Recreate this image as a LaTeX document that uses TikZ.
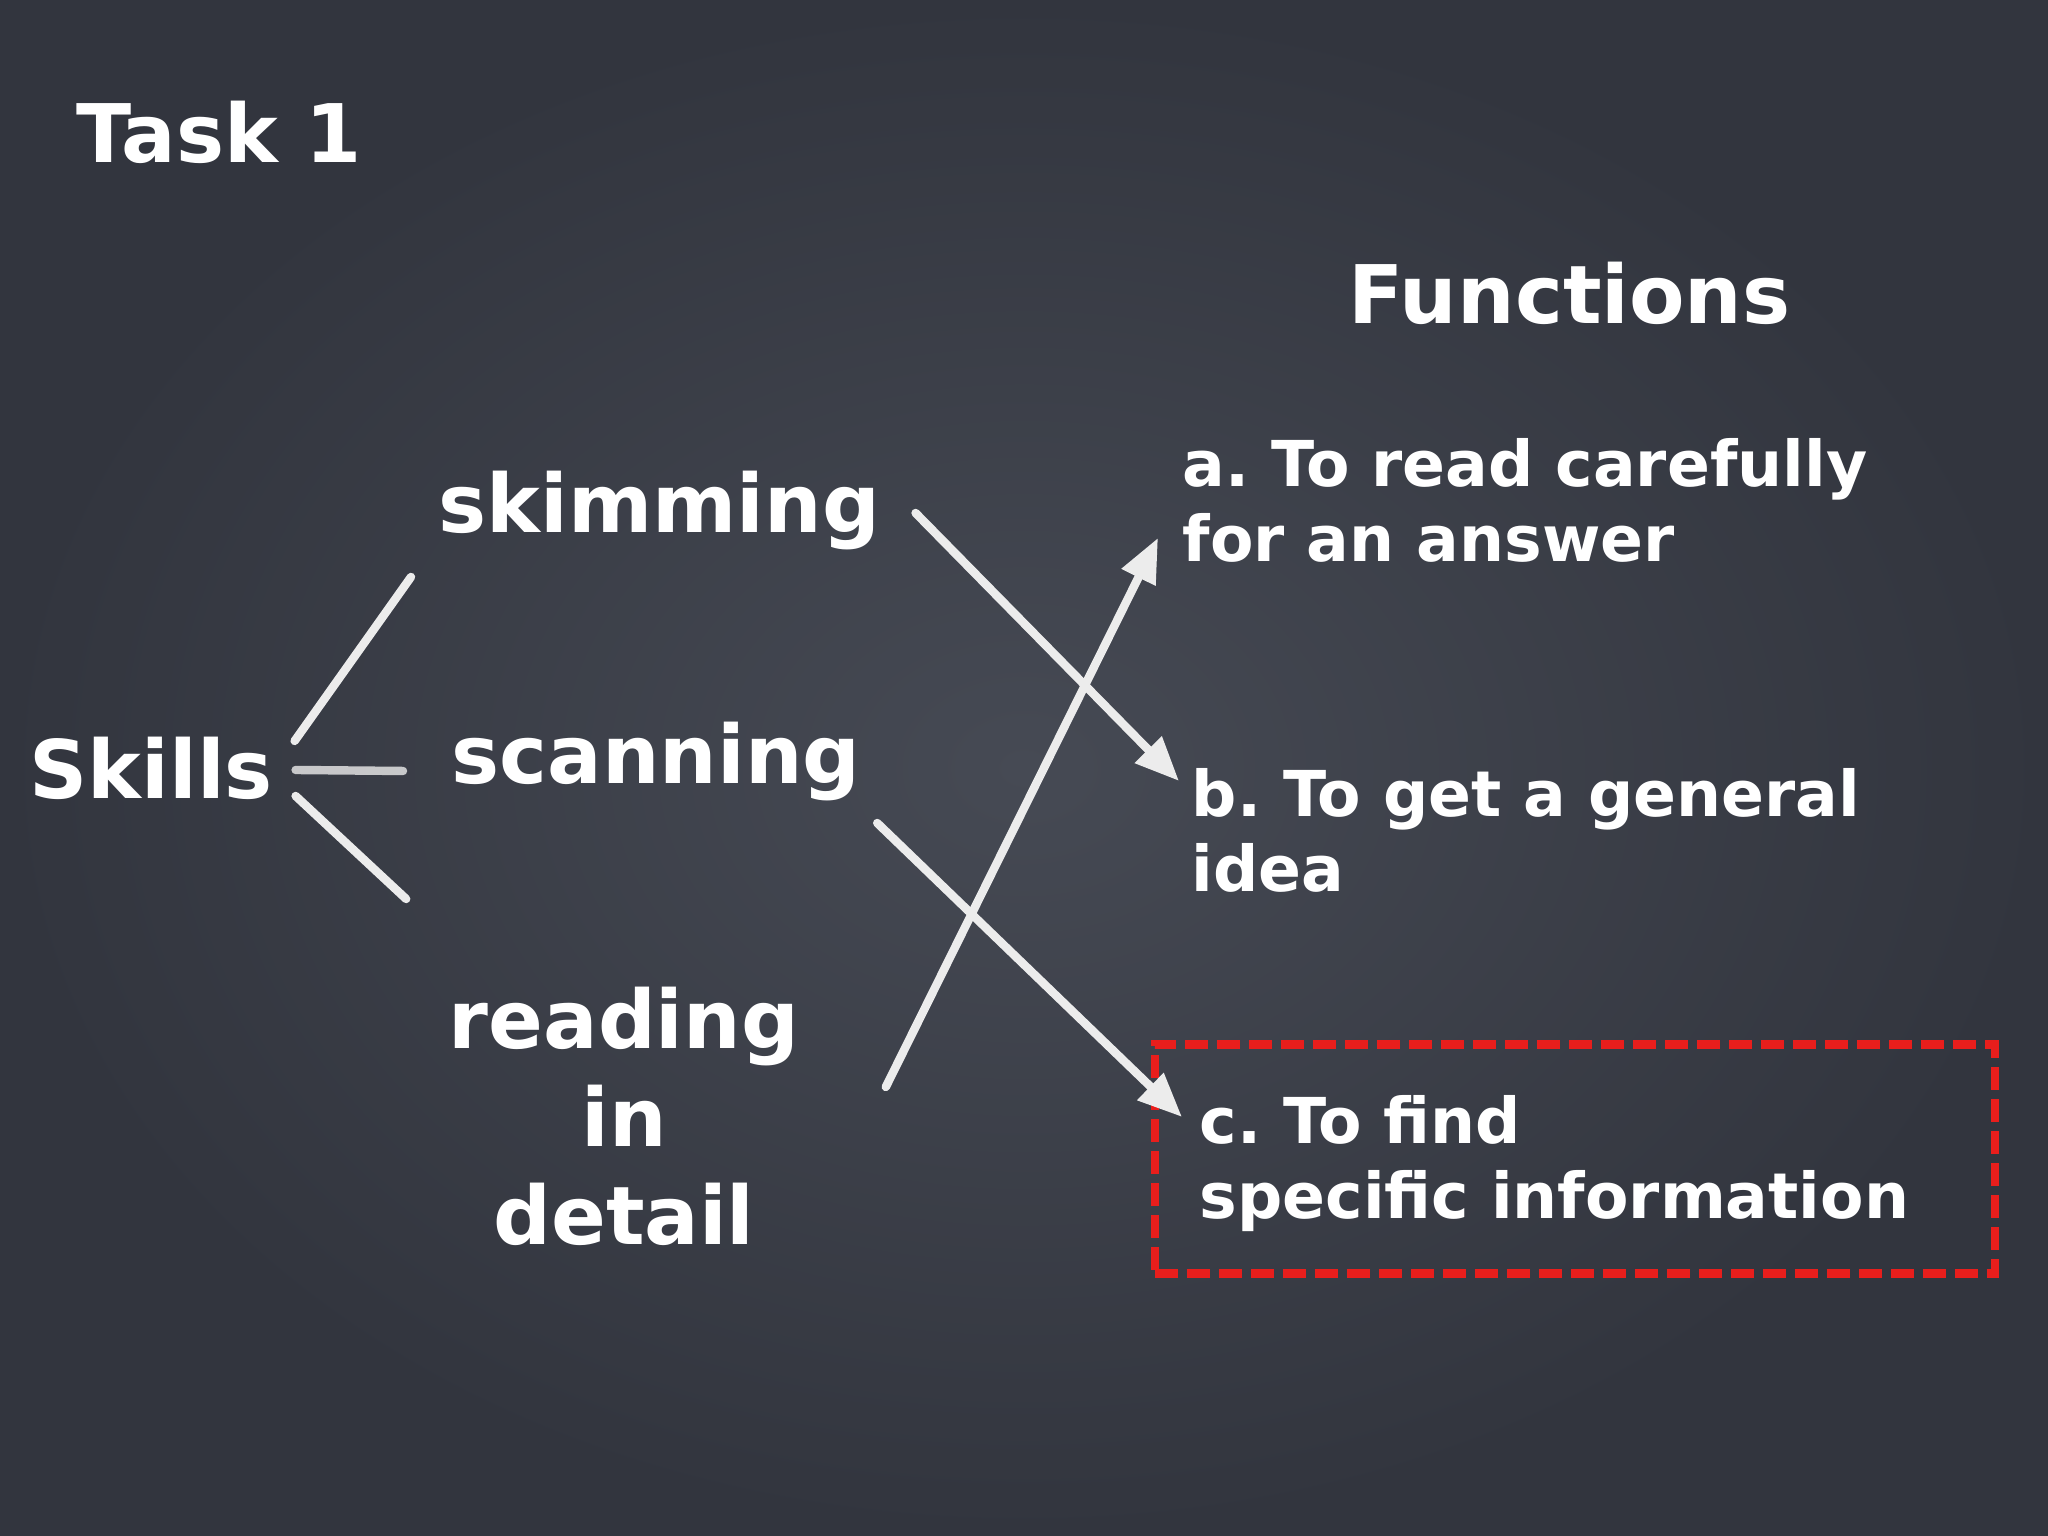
\documentclass[tikz,border=0pt]{standalone}
\usepackage{fontspec}
\setmainfont{DejaVu Sans}
\usetikzlibrary{positioning}
\usetikzlibrary{arrows.meta}

\definecolor{boardmid}{RGB}{70,74,84}
\definecolor{boardedge}{RGB}{50,53,62}
\definecolor{chalkwhite}{RGB}{236,236,236}
\definecolor{chalkred}{RGB}{232,30,28}

\tikzset{
 skill/.style={inner sep=0pt,text=white,font=\fontsize{23}{28}\selectfont\bfseries},
 func/.style={inner sep=0pt,text=white,align=left,font=\fontsize{18}{21.6}\selectfont\bfseries\frenchspacing},
 chalk/.style={draw=chalkwhite,line width=2.4pt,line cap=round},
 chalkarrow/.style={chalk,-{Triangle[length=0.44cm,width=0.36cm,fill=chalkwhite]}},
 redbox/.style={draw=chalkred,line width=2.5pt,dash pattern=on 0.23cm off 0.09cm,minimum width=8.4cm,minimum height=2.29cm}
}

\begin{document}
\begin{tikzpicture}
 \useasboundingbox (0,0) rectangle (20.48,15.36);
 \shade[inner color=boardmid,outer color=boardedge] (0,0) rectangle (20.48,15.36);

 % titles
 \node[skill,anchor=base west] (task) at (0.76,13.73) {Task 1};
 \node[skill,anchor=base west] (functions) at (13.48,12.12) {Functions};

 % skills (multi-line nodes sit on their last baseline)
 \node[skill,anchor=base west] (skills) at (0.29,7.37) {Skills};
 \node[skill,anchor=base west] (skimming) at (4.38,10.03) {skimming};
 \node[skill,anchor=base west] (scanning) at (4.51,7.52) {scanning};
 \node[skill,anchor=base,align=center] (reading) at (6.24,2.91) {reading\\in\\detail};

 % functions
 \node[func,anchor=base west] (a) at (11.82,9.74) {a. To read carefully\\for an answer};
 \node[func,anchor=base west] (b) at (11.91,6.44) {b. To get a general\\idea};
 \node[func,anchor=base west] (c) at (11.99,3.17) {c. To find\\specific information};
 \node[redbox] (box) at (15.75,3.77) {};

 % branches
 \draw[chalk] ([shift={(0.21,0.58)}]skills.base east) -- ([shift={(-0.27,-0.44)}]skimming.base west);
 \draw[chalk,opacity=0.8] ([shift={(0.22,0.29)}]skills.base east) -- ([shift={(-0.48,0.13)}]scanning.base west);
 \draw[chalk] ([shift={(0.22,0.03)}]skills.base east) -- ([shift={(-0.42,3.46)}]reading.base west);

 % matching arrows
 \draw[chalkarrow] ([shift={(0.35,0.20)}]skimming.base east) -- ([shift={(-0.12,1.11)}]b.base west);
 \draw[chalkarrow] ([shift={(0.16,-0.39)}]scanning.base east) -- ([shift={(-0.17,1.02)}]c.base west);
 \draw[chalkarrow] ([shift={(0.86,1.58)}]reading.base east) -- ([shift={(-0.24,0.24)}]a.base west);
\end{tikzpicture}
\end{document}
